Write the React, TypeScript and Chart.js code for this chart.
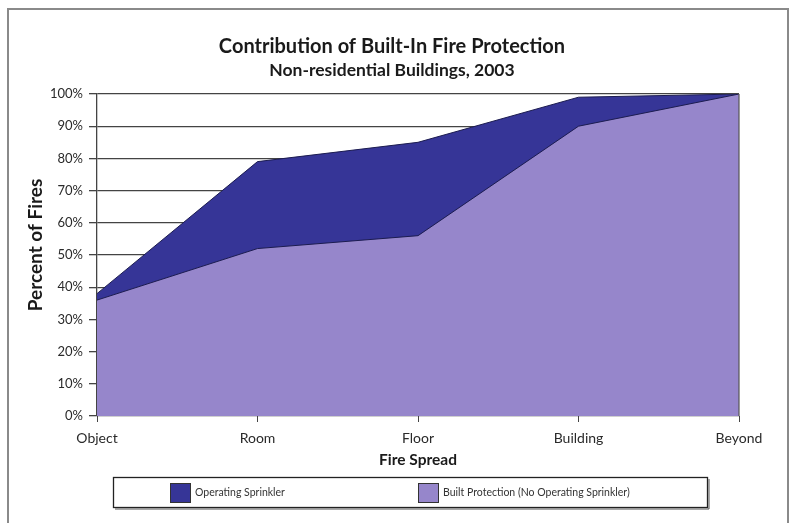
import React, { useEffect, useRef } from "react";
import { Chart, registerables } from "chart.js";

Chart.register(...registerables);

const title = "Contribution of Built-In Fire Protection";
const subtitle = "Non-residential Buildings, 2003";
const categories = ["Object", "Room", "Floor", "Building", "Beyond"];
const operatingSprinkler = [38, 79, 85, 99, 100];
const builtProtection = [36, 52, 56, 90, 100];
const seriesNames = ["Operating Sprinkler", "Built Protection (No Operating Sprinkler)"];
const yTickStep = 10;
const yMax = 100;
const xTitle = "Fire Spread";
const yTitle = "Percent of Fires";

const DARK = "#363597";
const LIGHT = "#9686cb";
const FONT = "Lato, 'Open Sans', sans-serif";

const decorPlugin = {
  id: "decor",
  beforeDraw(chart: any) {
    const ctx = chart.ctx;
    ctx.save();
    ctx.fillStyle = "#ffffff";
    ctx.fillRect(0, 0, chart.width, chart.height);
    ctx.strokeStyle = "#8a8a8a";
    ctx.lineWidth = 2;
    ctx.strokeRect(8, 9, 780, 530);
    ctx.fillStyle = "#1a1a1a";
    ctx.textAlign = "center";
    ctx.textBaseline = "alphabetic";
    ctx.font = `bold 20px ${FONT}`;
    ctx.fillText(title, 392, 53);
    ctx.font = `bold 17.5px ${FONT}`;
    ctx.fillText(subtitle, 392, 76);
    ctx.restore();
  },
  afterDraw(chart: any) {
    const ctx = chart.ctx;
    const x = chart.scales.x;
    const y = chart.scales.y;
    const area = chart.chartArea;
    ctx.save();
    // right edge of area
    const xr = x.getPixelForValue(categories.length - 1);
    ctx.strokeStyle = "#555";
    ctx.lineWidth = 1.2;
    ctx.beginPath();
    ctx.moveTo(xr, y.getPixelForValue(0));
    ctx.lineTo(xr, y.getPixelForValue(yMax));
    ctx.stroke();
    // axis titles
    ctx.fillStyle = "#1a1a1a";
    ctx.textAlign = "center";
    ctx.textBaseline = "middle";
    ctx.font = `bold 15.5px ${FONT}`;
    ctx.fillText(xTitle, (area.left + area.right) / 2, 460);
    ctx.save();
    ctx.translate(36, 245);
    ctx.rotate(-Math.PI / 2);
    ctx.font = `bold 19px ${FONT}`;
    ctx.fillText(yTitle, 0, 0);
    ctx.restore();
    // legend
    ctx.strokeStyle = "#222";
    ctx.lineWidth = 1.3;
    ctx.strokeRect(113.5, 477.5, 594, 30);
    ctx.lineWidth = 1;
    ctx.strokeStyle = "#555";
    ctx.beginPath();
    ctx.moveTo(709, 479);
    ctx.lineTo(709, 509);
    ctx.lineTo(115, 509);
    ctx.stroke();
    const boxes = [170, 418];
    const texts = [195, 443];
    const ds = chart.data.datasets;
    const legendOrder = [1, 0];
    legendOrder.forEach((di: number, i: number) => {
      const d = ds[di];
      ctx.fillStyle = d.backgroundColor;
      ctx.fillRect(boxes[i], 483, 21, 20);
      ctx.strokeStyle = "#333";
      ctx.lineWidth = 1;
      ctx.strokeRect(boxes[i] + 0.5, 483.5, 20, 19);
      ctx.fillStyle = "#333";
      ctx.textAlign = "left";
      ctx.textBaseline = "middle";
      ctx.font = `10.5px ${FONT}`;
      ctx.fillText(d.label, texts[i], 493);
    });
    ctx.restore();
  },
};

export default function App() {
  const ref = useRef<HTMLCanvasElement | null>(null);
  useEffect(() => {
    if (!ref.current) return;
    const chart = new Chart(ref.current, {
      type: "line",
      data: {
        labels: categories,
        datasets: [
          {
            label: seriesNames[1],
            data: builtProtection,
            backgroundColor: LIGHT,
            borderColor: "#1c1c50",
            borderWidth: 1,
            fill: "origin",
            pointRadius: 0,
            tension: 0,
          },
          {
            label: seriesNames[0],
            data: operatingSprinkler,
            backgroundColor: DARK,
            borderColor: "#1c1c50",
            borderWidth: 1,
            fill: "origin",
            pointRadius: 0,
            tension: 0,
          },
        ],
      },
      options: {
        responsive: false,
        animation: false,
        events: [],
        layout: { padding: { top: 94, right: 54, left: 0, bottom: 0 } },
        plugins: { legend: { display: false }, title: { display: false }, tooltip: { enabled: false } },
        scales: {
          x: {
            type: "category",
            offset: false,
            grid: { drawOnChartArea: false, drawTicks: true, tickLength: 6, color: "#444" },
            border: { display: false },
            ticks: { color: "#2a2a2a", font: { family: FONT, size: 14 }, padding: 8, maxRotation: 0, autoSkip: false },
            afterFit: (s: any) => {
              s.height = 107;
            },
          },
          y: {
            min: 0,
            max: yMax,
            grid: { color: "#444", lineWidth: 1.3, tickLength: 8, drawTicks: true },
            border: { display: true, color: "#444", width: 1.3 },
            ticks: {
              stepSize: yTickStep,
              color: "#2a2a2a",
              font: { family: FONT, size: 13 },
              padding: 6,
              callback: (v: any) => v + "%",
            },
            afterFit: (s: any) => {
              s.width = 97;
            },
          },
        },
      },
      plugins: [decorPlugin],
    });
    return () => chart.destroy();
  }, []);
  return (
    <div style={{ position: "absolute", left: 0, top: 0, width: 793, height: 523, background: "#fff" }}>
      <canvas ref={ref} width={793} height={523} style={{ display: "block" }} />
    </div>
  );
}
